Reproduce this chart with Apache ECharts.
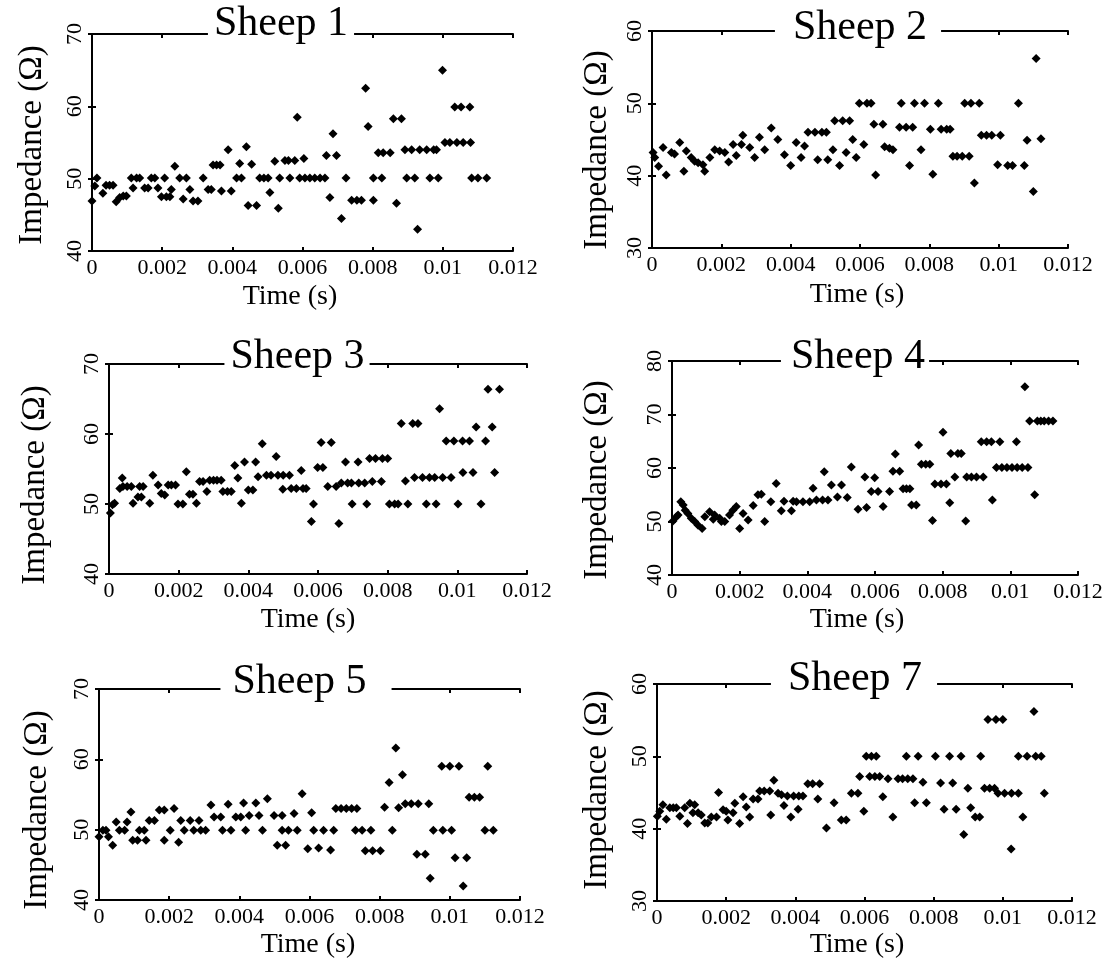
<!DOCTYPE html>
<html><head><meta charset="utf-8">
<script src="https://cdn.jsdelivr.net/npm/echarts@6/dist/echarts.min.js"></script>
<style>html,body{margin:0;padding:0;background:#fff}#c{width:1117px;height:969px}</style>
</head><body><div id="c"></div>
<script>
// ---------- data (time in milliseconds, impedance in ohms) ----------
const titles = ['Sheep 1', 'Sheep 2', 'Sheep 3', 'Sheep 4', 'Sheep 5', 'Sheep 7'];
const xTicks = [0, 0.002, 0.004, 0.006, 0.008, 0.01, 0.012];
const yRanges = [[40, 70], [30, 60], [40, 70], [40, 80], [40, 70], [30, 60]];
const xAxisName = 'Time (s)';
const yAxisName = 'Impedance (\u03A9)';

const sheep1 = [[0.00,46.9],[0.08,49.0],[0.14,50.1],[0.31,48.0],[0.40,49.1],[0.50,49.1],[0.60,49.1],[0.69,46.8],[0.79,47.4],[0.89,47.6],[0.98,47.6],[1.12,50.1],[1.17,48.7],[1.27,50.1],[1.36,50.1],[1.50,48.7],[1.60,48.7],[1.69,50.1],[1.79,50.1],[1.88,48.7],[1.98,47.5],[2.07,50.1],[2.12,47.5],[2.22,47.5],[2.26,48.5],[2.36,51.7],[2.50,50.1],[2.60,47.2],[2.69,50.1],[2.79,48.5],[2.88,46.9],[3.02,46.9],[3.17,50.1],[3.31,48.5],[3.40,48.5],[3.45,51.9],[3.55,51.9],[3.65,51.9],[3.69,48.3],[3.88,54.0],[3.97,48.3],[4.12,50.1],[4.21,52.1],[4.26,50.1],[4.40,54.4],[4.45,46.3],[4.55,52.0],[4.69,46.3],[4.78,50.1],[4.90,50.1],[5.02,50.1],[5.07,48.1],[5.21,52.4],[5.31,45.9],[5.35,50.1],[5.50,52.5],[5.60,52.5],[5.64,50.1],[5.78,52.5],[5.85,58.5],[5.92,50.1],[6.04,52.8],[6.07,50.1],[6.21,50.1],[6.35,50.1],[6.50,50.1],[6.64,50.1],[6.68,53.2],[6.78,47.4],[6.87,56.2],[6.97,53.2],[7.11,44.5],[7.24,50.1],[7.40,47.0],[7.55,47.0],[7.68,47.0],[7.80,62.5],[7.87,57.2],[8.02,50.1],[8.02,47.0],[8.16,53.6],[8.26,50.1],[8.30,53.6],[8.50,53.6],[8.59,58.3],[8.68,46.6],[8.82,58.3],[8.92,54.0],[8.97,50.1],[9.11,54.0],[9.20,50.1],[9.28,43.0],[9.34,54.0],[9.54,54.0],[9.63,50.1],[9.74,54.0],[9.82,54.0],[9.87,50.1],[9.99,65.0],[10.06,55.0],[10.20,55.0],[10.34,59.9],[10.40,55.0],[10.52,59.9],[10.58,55.0],[10.77,59.9],[10.79,55.0],[10.82,50.1],[11.00,50.1],[11.25,50.1]];

const sheep2 = [[0.03,43.2],[0.08,42.5],[0.19,41.3],[0.32,43.9],[0.41,40.1],[0.56,43.2],[0.65,43.0],[0.80,44.6],[0.92,40.6],[0.99,43.4],[1.13,42.5],[1.23,42.0],[1.33,41.8],[1.47,41.5],[1.52,40.6],[1.67,42.5],[1.81,43.6],[1.95,43.4],[2.10,43.2],[2.21,41.9],[2.34,44.3],[2.43,42.8],[2.58,44.3],[2.62,45.6],[2.82,43.9],[2.96,42.5],[3.10,45.3],[3.25,43.6],[3.44,46.6],[3.63,45.0],[3.82,42.9],[4.00,41.4],[4.16,44.6],[4.30,42.5],[4.40,44.1],[4.50,46.0],[4.70,46.0],[4.78,42.2],[4.90,46.0],[5.03,46.0],[5.07,42.2],[5.22,43.6],[5.27,47.6],[5.41,41.4],[5.50,47.6],[5.60,43.2],[5.70,47.6],[5.79,45.0],[5.89,42.5],[5.98,50.0],[6.11,44.3],[6.20,50.0],[6.32,50.0],[6.40,47.1],[6.45,40.1],[6.66,47.1],[6.71,44.0],[6.85,43.8],[6.95,43.6],[7.14,46.7],[7.19,50.0],[7.33,46.7],[7.43,41.4],[7.52,46.7],[7.57,50.0],[7.76,43.6],[7.86,50.0],[8.03,46.4],[8.10,40.2],[8.26,50.0],[8.34,46.4],[8.50,46.4],[8.60,46.4],[8.68,42.7],[8.80,42.7],[8.95,42.7],[9.02,50.0],[9.15,42.7],[9.20,50.0],[9.30,39.0],[9.44,50.0],[9.50,45.6],[9.65,45.6],[9.80,45.6],[9.97,41.5],[10.05,45.6],[10.26,41.4],[10.40,41.4],[10.57,50.0],[10.74,41.4],[10.82,44.9],[11.00,37.8],[11.08,56.2],[11.22,45.1]];

const sheep3 = [[0.04,48.7],[0.10,49.9],[0.16,50.1],[0.31,52.2],[0.38,53.7],[0.40,52.5],[0.52,52.5],[0.64,52.5],[0.69,50.1],[0.83,51.0],[0.88,52.5],[0.93,51.0],[0.98,52.5],[1.17,50.1],[1.26,54.1],[1.41,52.7],[1.50,51.5],[1.60,51.3],[1.70,52.7],[1.79,52.7],[1.91,52.7],[1.98,50.0],[2.12,50.0],[2.22,54.6],[2.31,51.4],[2.41,51.4],[2.51,50.1],[2.60,53.2],[2.70,53.2],[2.81,51.8],[2.89,53.4],[3.00,53.4],[3.10,53.4],[3.22,53.4],[3.27,51.8],[3.40,51.8],[3.51,51.8],[3.61,55.5],[3.70,53.7],[3.80,50.1],[3.89,56.0],[4.00,52.0],[4.13,52.0],[4.21,56.0],[4.28,53.9],[4.40,58.6],[4.52,54.1],[4.65,54.1],[4.80,56.8],[4.85,54.1],[4.99,52.1],[5.00,54.1],[5.18,54.1],[5.23,52.2],[5.38,52.2],[5.52,54.8],[5.57,52.2],[5.66,52.2],[5.81,47.5],[5.87,50.0],[5.99,55.2],[6.09,58.8],[6.14,55.2],[6.28,52.5],[6.38,58.8],[6.52,52.5],[6.60,47.2],[6.67,53.0],[6.79,56.0],[6.85,53.0],[6.96,53.0],[6.98,50.0],[7.15,56.0],[7.17,53.0],[7.34,53.0],[7.40,50.0],[7.48,56.5],[7.56,53.2],[7.65,56.5],[7.82,53.2],[7.85,56.5],[8.00,56.5],[8.05,50.0],[8.20,50.0],[8.30,50.0],[8.39,61.5],[8.51,53.3],[8.58,50.0],[8.72,61.5],[8.77,53.8],[8.87,61.5],[9.00,53.8],[9.11,50.0],[9.20,53.8],[9.35,53.8],[9.39,50.0],[9.49,63.6],[9.58,53.8],[9.68,59.0],[9.82,53.8],[9.90,59.0],[10.02,50.0],[10.15,59.0],[10.16,54.5],[10.35,59.0],[10.45,54.5],[10.54,61.0],[10.68,50.0],[10.81,59.0],[10.88,66.4],[11.00,61.0],[11.07,54.5],[11.21,66.4]];

const sheep4 = [[0.03,50.1],[0.13,50.9],[0.18,51.2],[0.26,53.7],[0.33,53.1],[0.39,52.1],[0.47,51.5],[0.57,50.6],[0.67,50.0],[0.77,49.3],[0.89,48.7],[0.97,50.9],[1.11,51.8],[1.22,50.4],[1.26,51.2],[1.41,50.6],[1.46,50.0],[1.56,50.0],[1.70,51.2],[1.80,52.1],[1.90,52.8],[2.00,48.7],[2.10,51.5],[2.25,50.3],[2.40,53.0],[2.54,55.0],[2.64,55.1],[2.74,50.0],[2.92,53.7],[3.08,57.1],[3.23,52.0],[3.31,53.8],[3.53,52.0],[3.58,53.8],[3.68,53.7],[3.87,53.7],[4.07,53.7],[4.17,56.2],[4.27,54.0],[4.45,54.0],[4.50,59.3],[4.61,54.0],[4.71,56.8],[4.89,54.6],[5.01,56.8],[5.18,54.5],[5.30,60.2],[5.50,52.3],[5.70,58.3],[5.75,52.6],[5.89,55.6],[5.99,58.2],[6.09,55.6],[6.24,52.8],[6.43,55.6],[6.53,59.4],[6.60,62.6],[6.73,59.4],[6.83,56.1],[6.93,56.1],[7.03,56.1],[7.08,53.1],[7.22,53.1],[7.29,64.3],[7.37,60.7],[7.50,60.7],[7.62,60.7],[7.70,50.2],[7.77,57.0],[7.95,57.0],[8.01,66.7],[8.11,57.0],[8.21,53.5],[8.24,62.7],[8.36,58.3],[8.45,62.7],[8.55,62.7],[8.68,50.1],[8.71,58.3],[8.85,58.3],[9.00,58.3],[9.14,64.9],[9.20,58.3],[9.30,64.9],[9.44,64.9],[9.47,54.0],[9.59,60.1],[9.69,64.9],[9.75,60.1],[9.90,60.1],[10.05,60.1],[10.18,64.9],[10.20,60.1],[10.35,60.1],[10.43,75.2],[10.52,60.1],[10.57,68.8],[10.72,55.0],[10.80,68.8],[10.90,68.8],[11.00,68.8],[11.13,68.8],[11.26,68.8]];

const sheep5 = [[0.00,49.0],[0.11,49.9],[0.20,49.9],[0.27,49.0],[0.39,47.8],[0.49,51.1],[0.58,49.9],[0.73,49.9],[0.80,51.1],[0.91,52.5],[0.96,48.5],[1.10,48.5],[1.15,49.9],[1.29,49.9],[1.34,48.5],[1.43,51.3],[1.58,51.3],[1.72,52.8],[1.86,52.8],[1.86,48.5],[2.03,49.9],[2.14,53.0],[2.27,48.2],[2.33,51.3],[2.43,49.9],[2.60,51.3],[2.70,49.9],[2.85,51.3],[2.90,49.9],[3.04,49.9],[3.19,53.5],[3.28,51.8],[3.47,51.8],[3.52,49.9],[3.68,53.6],[3.76,49.9],[3.90,51.8],[4.04,51.8],[4.12,53.8],[4.18,49.9],[4.28,52.0],[4.47,53.8],[4.56,52.0],[4.66,49.9],[4.80,54.4],[4.99,52.0],[5.08,47.8],[5.22,52.0],[5.22,49.9],[5.32,47.8],[5.40,49.9],[5.56,52.3],[5.65,49.9],[5.79,55.1],[5.95,47.3],[6.06,52.4],[6.12,49.9],[6.26,47.4],[6.40,49.9],[6.60,47.1],[6.69,49.9],[6.75,53.0],[6.90,53.0],[7.05,53.0],[7.20,53.0],[7.35,53.0],[7.31,49.9],[7.50,49.9],[7.59,47.0],[7.75,49.9],[7.80,47.0],[8.02,47.0],[8.14,53.2],[8.27,56.7],[8.36,49.9],[8.46,61.6],[8.54,53.1],[8.65,57.8],[8.73,53.7],[8.90,53.7],[9.06,46.5],[9.10,53.7],[9.30,46.5],[9.40,53.7],[9.44,43.1],[9.53,49.9],[9.77,59.0],[9.80,49.9],[10.00,59.0],[10.05,49.9],[10.15,46.0],[10.26,59.0],[10.38,42.0],[10.48,46.0],[10.55,54.6],[10.70,54.6],[10.85,54.6],[11.00,49.9],[11.08,59.0],[11.24,49.9]];

const sheep7 = [[0.01,41.7],[0.08,42.4],[0.17,43.3],[0.27,41.3],[0.37,42.9],[0.47,42.9],[0.56,42.9],[0.66,41.7],[0.80,42.9],[0.88,40.7],[0.95,43.5],[1.04,42.2],[1.09,43.3],[1.19,42.2],[1.28,41.9],[1.38,40.8],[1.47,40.8],[1.57,41.6],[1.72,41.6],[1.78,45.0],[1.91,42.6],[2.00,42.4],[2.05,41.2],[2.20,42.2],[2.25,43.5],[2.39,40.7],[2.49,44.4],[2.58,43.0],[2.68,41.6],[2.78,44.1],[2.92,44.1],[2.97,45.2],[3.10,45.2],[3.26,45.2],[3.29,41.9],[3.38,46.7],[3.50,44.9],[3.60,44.7],[3.67,43.2],[3.77,44.5],[3.87,41.6],[3.95,44.5],[4.08,42.7],[4.10,44.5],[4.22,44.5],[4.36,46.2],[4.50,46.2],[4.65,44.1],[4.70,46.2],[4.90,40.1],[5.12,43.6],[5.33,41.2],[5.47,41.2],[5.62,44.9],[5.81,44.9],[5.86,47.2],[5.98,42.4],[6.05,50.0],[6.15,47.2],[6.20,50.0],[6.30,47.2],[6.34,50.0],[6.44,47.2],[6.53,44.4],[6.68,46.9],[6.82,41.6],[6.97,46.9],[7.10,46.9],[7.21,50.0],[7.25,46.9],[7.40,46.9],[7.45,43.6],[7.55,50.0],[7.69,46.4],[7.79,43.6],[8.05,50.0],[8.20,46.3],[8.30,42.7],[8.46,50.0],[8.55,46.3],[8.65,42.7],[8.79,50.0],[8.87,39.2],[8.99,45.6],[9.07,42.9],[9.20,41.6],[9.33,41.6],[9.36,50.0],[9.47,45.6],[9.57,55.1],[9.62,45.6],[9.76,45.6],[9.80,55.1],[9.86,44.9],[10.00,55.1],[10.05,44.9],[10.24,37.2],[10.25,44.9],[10.45,44.9],[10.45,50.0],[10.58,41.6],[10.70,50.0],[10.90,56.2],[10.95,50.0],[11.11,50.0],[11.20,44.9]];

const seriesData = [sheep1, sheep2, sheep3, sheep4, sheep5, sheep7];

// ---------- layout (pixels) ----------
const layout = [
  {left: 92,  top: 34,  width: 421, height: 217, tx: 281, ty: 24,  tpad: [0, 6, 0, 6],  xnx: 290, xny: 297, ynx: 32, yny: 145},
  {left: 652, top: 31,  width: 416, height: 217, tx: 858, ty: 28,  tpad: [0, 14, 0, 18], xnx: 857, xny: 295, ynx: 597, yny: 150},
  {left: 109, top: 364, width: 418, height: 210, tx: 297, ty: 357, tpad: [0, 5, 0, 6],  xnx: 308, xny: 620, ynx: 35, yny: 485},
  {left: 672, top: 361, width: 406, height: 214, tx: 855, ty: 357, tpad: [0, 4, 0, 10], xnx: 857, xny: 620, ynx: 597, yny: 480},
  {left: 99,  top: 689, width: 421, height: 211, tx: 306, ty: 682, tpad: [0, 25, 0, 12], xnx: 308, xny: 945, ynx: 37, yny: 810},
  {left: 657, top: 684, width: 415, height: 217, tx: 854, ty: 679, tpad: [0, 15, 0, 17], xnx: 857, xny: 945, ynx: 597, yny: 790}
];

const FONT = '"Liberation Serif", "Times New Roman", serif';
const axisLineStyle = {color: '#000', width: 2};

const option = {
  backgroundColor: '#fff',
  animation: false,
  grid: [], xAxis: [], yAxis: [], series: [], graphic: []
};

const fmtX = v => String(parseFloat(v.toFixed(4)));

layout.forEach((L, i) => {
  option.grid.push({left: L.left, top: L.top, width: L.width, height: L.height, containLabel: false});
  const [ymin, ymax] = yRanges[i];
  option.xAxis.push({
    gridIndex: i, type: 'value', position: 'bottom', min: xTicks[0], max: xTicks[xTicks.length - 1], interval: 0.002,
    axisLine: {lineStyle: axisLineStyle}, axisTick: {inside: true, length: 4, lineStyle: {color: '#000', width: 2}},
    axisLabel: {color: '#000', fontFamily: FONT, fontSize: 22, margin: 6, formatter: fmtX},
    splitLine: {show: false}
  });
  option.xAxis.push({
    gridIndex: i, type: 'value', position: 'top', min: xTicks[0], max: xTicks[xTicks.length - 1], interval: 0.002,
    axisLine: {lineStyle: axisLineStyle}, axisTick: {inside: true, length: 4, lineStyle: {color: '#000', width: 2}},
    axisLabel: {show: false}, splitLine: {show: false}
  });
  option.yAxis.push({
    gridIndex: i, type: 'value', position: 'left', min: ymin, max: ymax, interval: 10,
    axisLine: {show: true, lineStyle: axisLineStyle}, axisTick: {show: true, inside: true, length: 4, lineStyle: {color: '#000', width: 2}},
    axisLabel: {color: '#000', fontFamily: FONT, fontSize: 22, rotate: 90, margin: 6},
    splitLine: {show: false}
  });
  option.yAxis.push({
    gridIndex: i, type: 'value', position: 'right', min: ymin, max: ymax, interval: 10,
    axisLine: {show: true, lineStyle: axisLineStyle}, axisTick: {show: true, inside: true, length: 4, lineStyle: {color: '#000', width: 2}},
    axisLabel: {show: false}, splitLine: {show: false}
  });
  option.series.push({
    type: 'scatter', xAxisIndex: 2 * i, yAxisIndex: 2 * i,
    symbol: 'diamond', symbolSize: 9,
    itemStyle: {color: '#000', opacity: 1},
    data: seriesData[i].map(p => [p[0] / 1000, p[1]])
  });
  option.graphic.push({
    type: 'text', x: L.tx, y: L.ty, z: 100,
    style: {text: titles[i], font: '42px ' + FONT, fill: '#000', align: 'center', verticalAlign: 'middle',
            backgroundColor: '#fff', padding: L.tpad}
  });
  option.graphic.push({
    type: 'text', x: L.xnx, y: L.xny, z: 100,
    style: {text: xAxisName, font: '28px ' + FONT, fill: '#000', align: 'center', verticalAlign: 'middle'}
  });
  option.graphic.push({
    type: 'text', x: L.ynx, y: L.yny, z: 100, rotation: Math.PI / 2,
    style: {text: yAxisName, font: '33px ' + FONT, fill: '#000', align: 'center', verticalAlign: 'middle'}
  });
});

const chart = echarts.init(document.getElementById('c'), null, {renderer: 'canvas'});
chart.setOption(option);
</script>
</body></html>
